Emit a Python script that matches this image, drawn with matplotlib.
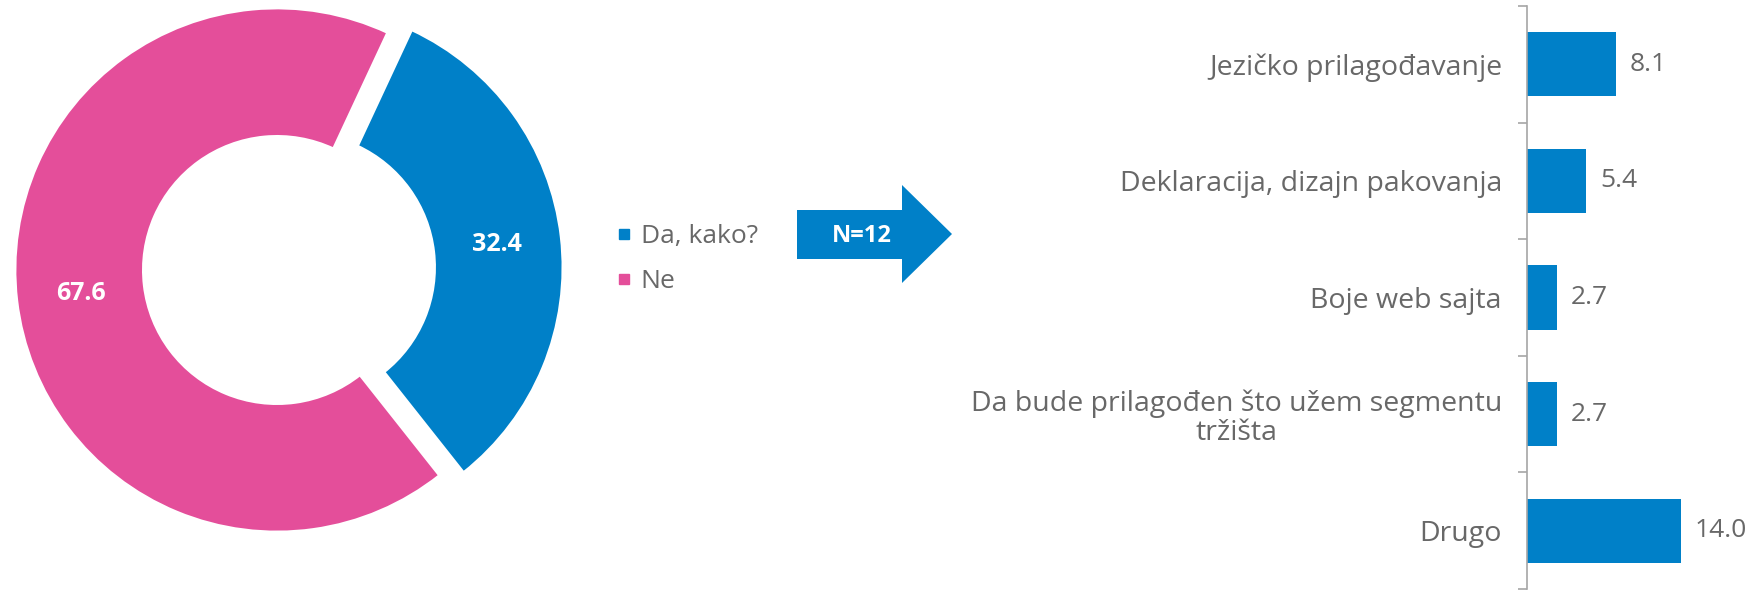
import matplotlib
matplotlib.use("Agg")
import matplotlib.pyplot as plt
from matplotlib.lines import Line2D
from matplotlib.patches import Polygon

# donut: answers to "was the offer adapted"
donut_labels = ["Da, kako?", "Ne"]
donut_values = [32.4, 67.6]
donut_colors = ["#0080C8", "#E44E9A"]

# bars: how it was adapted
bar_labels = [
    "Jezičko prilagođavanje",
    "Deklaracija, dizajn pakovanja",
    "Boje web sajta",
    "Da bude prilagođen što užem segmentu\ntržišta",
    "Drugo",
]
bar_values = [8.1, 5.4, 2.7, 2.7, 14.0]
bar_color = "#0080C8"
sample_text = "N=12"

GRAY = "#686868"
AXIS_GRAY = "#A6A6A6"

plt.rcParams["font.family"] = ["Open Sans", "DejaVu Sans"]

W, H = 1752, 590
fig = plt.figure(figsize=(W / 100, H / 100), dpi=100)


def fx(px):
    return px / W


def fy(py):
    # py measured from the top of the picture
    return 1 - py / H


# ---- donut ----
R = 262.0          # outer radius in pixels
cx, cy = 277, 270  # centre of the pink ring (pixels from top-left)
ax1 = fig.add_axes([0, 0, fx(600), 1])
wedges, _, autotexts = ax1.pie(
    donut_values,
    colors=donut_colors,
    startangle=65,
    counterclock=False,
    explode=[0.092, 0],
    wedgeprops=dict(width=0.49, edgecolor="white", linewidth=2),
    autopct=lambda p: f"{p:.1f}",
    pctdistance=0.755,
    textprops=dict(color="white", fontsize=18, fontweight="bold"),
)
ax1.set_xlim(-cx / R, (600 - cx) / R)
ax1.set_ylim(-(H - cy) / R, cy / R)
ax1.set_axis_off()

handles = [Line2D([], [], marker="s", linestyle="none", color=c, markersize=7)
           for c in donut_colors]
fig.legend(handles, donut_labels, loc="center left",
           bbox_to_anchor=(fx(617), fy(259)), frameon=False, fontsize=19,
           labelcolor=GRAY, handlelength=0.55, handletextpad=0.35,
           labelspacing=0.75, borderaxespad=0, borderpad=0)

# ---- arrow with sample size ----
arrow_pts = [(797, 210), (902, 210), (902, 185), (952, 234),
             (902, 283), (902, 259), (797, 259)]
fig.patches.append(Polygon([(fx(x), fy(y)) for x, y in arrow_pts],
                           closed=True, transform=fig.transFigure,
                           facecolor=bar_color, edgecolor="none"))
fig.text(fx(862), fy(236), sample_text, color="white", fontsize=17,
         fontweight="bold", ha="center", va="center")

# ---- horizontal bars ----
ax2 = fig.add_axes([fx(1527), 1 / H, fx(W - 1527), 583 / H])
pos = list(range(len(bar_values)))
ax2.barh(pos, bar_values, height=0.55, color=bar_color)
ax2.set_ylim(len(bar_values) - 0.5, -0.5)
ax2.set_xlim(0, (W - 1527) / 11.0)

for s in ["top", "right", "bottom"]:
    ax2.spines[s].set_visible(False)
ax2.spines["left"].set_color(AXIS_GRAY)
ax2.spines["left"].set_linewidth(1.2)
ax2.set_xticks([])

ax2.set_yticks([p - 0.5 for p in pos] + [pos[-1] + 0.5])
ax2.set_yticklabels([])
ax2.tick_params(axis="y", which="major", length=6.5, width=1.2,
                color=AXIS_GRAY, direction="out")
ax2.set_yticks(pos, minor=True)
ax2.set_yticklabels(bar_labels, minor=True, fontsize=20.5, color=GRAY)
ax2.tick_params(axis="y", which="minor", length=0, pad=18)
for lab in ax2.get_yticklabels(minor=True):
    lab.set_multialignment("center")
    lab.set_linespacing(1.05)

for i, v in enumerate(bar_values):
    ax2.annotate(f"{v:.1f}", (v, i), xytext=(10, 0),
                 textcoords="offset points", va="center", ha="left",
                 fontsize=19, color=GRAY)

fig.savefig("out.png", dpi=100)
